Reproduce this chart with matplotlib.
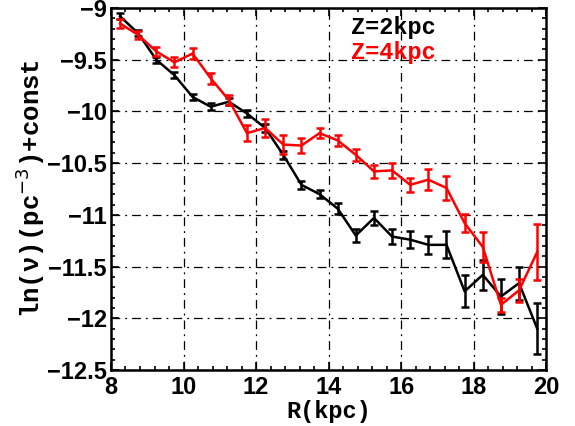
import matplotlib
matplotlib.use("Agg")
import matplotlib.pyplot as plt
from matplotlib.ticker import MultipleLocator
import numpy as np

# radial bins (kpc)
r = [8.25, 8.75, 9.25, 9.75, 10.25, 10.75, 11.25, 11.75, 12.25, 12.75, 13.25, 13.75,
     14.25, 14.75, 15.25, 15.75, 16.25, 16.75, 17.25, 17.75, 18.25, 18.75, 19.25, 19.75]

# Z = 2 kpc
ln2 = [-9.08, -9.245, -9.50, -9.65, -9.86, -9.955, -9.906, -10.02, -10.16, -10.42, -10.71, -10.80,
       -10.94, -11.20, -11.03, -11.21, -11.24, -11.29, -11.29, -11.74, -11.58, -11.79, -11.66, -12.10]
err2 = [0.03, 0.03, 0.03, 0.03, 0.03, 0.035, 0.035, 0.035, 0.04, 0.04, 0.04, 0.04,
        0.05, 0.065, 0.07, 0.07, 0.08, 0.09, 0.13, 0.155, 0.145, 0.17, 0.16, 0.25]

# Z = 4 kpc
ln4 = [-9.15, -9.26, -9.42, -9.525, -9.44, -9.68, -9.89, -10.21, -10.16, -10.32, -10.33, -10.21,
       -10.28, -10.42, -10.58, -10.57, -10.71, -10.66, -10.74, -11.08, -11.31, -11.87, -11.73, -11.36]
err4 = [0.04, 0.04, 0.04, 0.05, 0.05, 0.05, 0.05, 0.08, 0.09, 0.09, 0.07, 0.05,
        0.055, 0.06, 0.06, 0.07, 0.07, 0.10, 0.12, 0.09, 0.145, 0.07, 0.11, 0.27]

mono = ["Liberation Mono", "DejaVu Sans Mono", "monospace"]
sans = "Liberation Sans"

fig = plt.figure(figsize=(5.75, 4.26), dpi=100)
ax = fig.add_axes([0.193, 0.1315, 0.757, 0.8497])

ax.errorbar(r, ln2, yerr=err2, color="black", lw=1.8, elinewidth=1.8,
            capsize=3, capthick=1.8, zorder=3)
ax.errorbar(r, ln4, yerr=err4, color="red", lw=1.8, elinewidth=1.8,
            capsize=3, capthick=1.8, zorder=4)

ax.set_xlim(8, 20)
ax.set_ylim(-12.5, -9)
ax.xaxis.set_major_locator(MultipleLocator(2))
ax.xaxis.set_minor_locator(MultipleLocator(0.4))
ax.yaxis.set_major_locator(MultipleLocator(0.5))
ax.yaxis.set_minor_locator(MultipleLocator(0.1))

ax.grid(True, which="major", color="black", lw=0.9, dashes=(7, 4, 1.5, 4))

ax.tick_params(which="both", direction="in", top=True, right=True, width=1.2)
ax.tick_params(which="major", length=6)
ax.tick_params(which="minor", length=3)
for s in ax.spines.values():
    s.set_linewidth(1.8)

ylabels = ["-12.5", "-12", "-11.5", "-11", "-10.5", "-10", "-9.5", "-9"]
ax.set_yticks([-12.5, -12, -11.5, -11, -10.5, -10, -9.5, -9])
ax.set_yticklabels([t.replace("-", "\u2212") for t in ylabels])
for lab in ax.get_xticklabels() + ax.get_yticklabels():
    lab.set_fontfamily(sans)
    lab.set_fontweight("bold")
    lab.set_fontsize(17)
ax.tick_params(axis="x", pad=4)
ax.tick_params(axis="y", pad=3)

ax.set_xlabel("R(kpc)", family=mono, fontsize=17, weight="bold", labelpad=1)
ax.set_ylabel("ln(\u03bd)(pc$^{-3}$)+const", family=mono, fontsize=18.5,
              weight="bold", labelpad=0)

ax.text(0.552, 0.945, "Z=2kpc", transform=ax.transAxes, family=mono,
        fontsize=17, weight="bold", color="black", va="center")
ax.text(0.552, 0.878, "Z=4kpc", transform=ax.transAxes, family=mono,
        fontsize=17, weight="bold", color="red", va="center")

fig.savefig("out.png", dpi=100)
